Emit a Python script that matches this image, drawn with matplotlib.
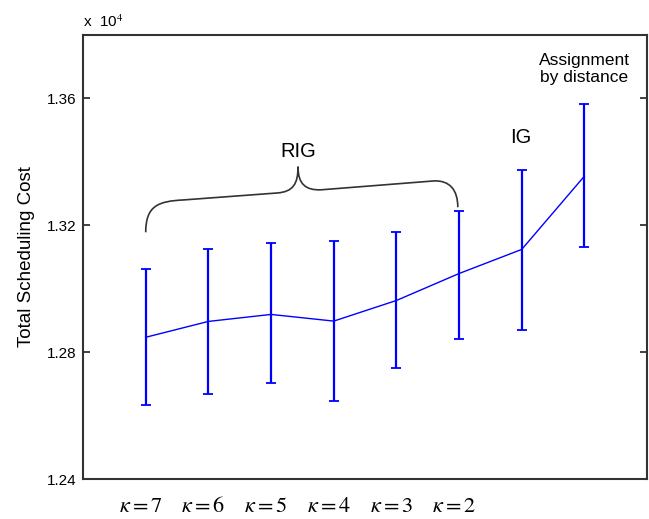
import matplotlib.pyplot as plt
import matplotlib.transforms as mtrans
from matplotlib.path import Path
from matplotlib.patches import PathPatch

plt.rcParams['font.family'] = ['Liberation Sans', 'DejaVu Sans']
plt.rcParams['mathtext.fontset'] = 'stix'

# datos (en unidades de 10^4)
posiciones = [1, 2, 3, 4, 5, 6, 7, 8]
media = [1.2847, 1.2897, 1.2919, 1.2898, 1.2963, 1.3048, 1.3124, 1.3355]
minimo = [1.2634, 1.2669, 1.2703, 1.2647, 1.2751, 1.2842, 1.2869, 1.3132]
maximo = [1.3062, 1.3126, 1.3145, 1.3150, 1.3180, 1.3244, 1.3374, 1.3581]
etiquetas_kappa = [r'$\kappa = 7$', r'$\kappa = 6$', r'$\kappa = 5$',
                   r'$\kappa = 4$', r'$\kappa = 3$', r'$\kappa = 2$']
ticks_y = [1.24, 1.28, 1.32, 1.36]

err_abajo = [m - lo for m, lo in zip(media, minimo)]
err_arriba = [hi - m for m, hi in zip(media, maximo)]

fig = plt.figure(figsize=(6.49, 5.19), dpi=100)
ax = fig.add_axes([0.128, 0.077, 0.869, 0.8555])

ax.errorbar(posiciones, media, yerr=[err_abajo, err_arriba], color='blue',
            lw=1.0, elinewidth=1.6, capsize=3.5, capthick=1.3)

ax.set_xlim(0, 9)
ax.set_ylim(1.24, 1.38)
ax.set_yticks(ticks_y)
ax.set_yticklabels(['%.2f' % t for t in ticks_y], fontsize=11)
ax.set_xticks(posiciones[:6])
ax.set_xticklabels(etiquetas_kappa, fontsize=16)
ax.tick_params(axis='x', length=0, pad=12)
ax.tick_params(axis='y', direction='in', right=True, length=5, width=1.2,
               color='#222222', pad=5)
# etiquetas kappa un poco a la izquierda, como en el original
desplaza = mtrans.ScaledTranslation(-5 / 100, 0, fig.dpi_scale_trans)
for lab in ax.get_xticklabels():
    lab.set_transform(lab.get_transform() + desplaza)
for s in ax.spines.values():
    s.set_color('#333333')
    s.set_linewidth(1.5)

ax.set_ylabel('Total Scheduling Cost', fontsize=13.5, labelpad=8)
ax.text(0.0, 1.012, r'x  10$^4$', transform=ax.transAxes, fontsize=11,
        ha='left', va='bottom')

# llave sobre RIG
verts = [(1.0, 1.3178), (1.0, 1.3262), (1.2, 1.3276), (1.6, 1.3280),
         (3.1, 1.3302),
         (3.35, 1.3306), (3.43, 1.3330), (3.43, 1.3385),
         (3.43, 1.3330), (3.55, 1.3310), (3.8, 1.3312),
         (5.6, 1.3340),
         (5.85, 1.3342), (5.98, 1.3312), (5.98, 1.3257)]
codes = [Path.MOVETO, Path.CURVE4, Path.CURVE4, Path.CURVE4,
         Path.LINETO,
         Path.CURVE4, Path.CURVE4, Path.CURVE4,
         Path.CURVE4, Path.CURVE4, Path.CURVE4,
         Path.LINETO,
         Path.CURVE4, Path.CURVE4, Path.CURVE4]
ax.add_patch(PathPatch(Path(verts, codes), fill=False, color='#333333', lw=1.2))

ax.text(3.43, 1.3433, 'RIG', fontsize=14.5, ha='center', va='center')
ax.text(6.98, 1.3478, 'IG', fontsize=14.5, ha='center', va='center')
ax.text(8.0, 1.3693, 'Assignment\nby distance', fontsize=12.5, ha='center',
        va='center', linespacing=1.2)

fig.savefig('out.png', dpi=100)
